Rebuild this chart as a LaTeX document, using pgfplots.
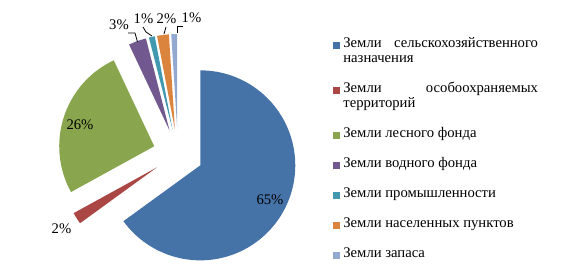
\documentclass[border=0pt]{standalone}
\usepackage{fontspec}
\setmainfont{Liberation Serif}
\usepackage{pgfplots}
\pgfplotsset{compat=1.18}
\definecolor{cBlue}{RGB}{69,114,167}
\definecolor{cRed}{RGB}{170,70,67}
\definecolor{cGreen}{RGB}{137,165,78}
\definecolor{cPurple}{RGB}{113,88,143}
\definecolor{cTeal}{RGB}{65,152,175}
\definecolor{cOrange}{RGB}{219,132,61}
\definecolor{cLBlue}{RGB}{147,169,207}
% #1 = cumulative share before this slice (%), #2 = share (%), #3 = colour
\newcommand{\pieslice}[3]{%
  \pgfmathsetmacro\aS{90-3.6*(#1)}%
  \pgfmathsetmacro\aE{90-3.6*(#1+#2)}%
  \pgfmathsetmacro\aM{(\aS+\aE)/2}%
  \pgfmathsetmacro\px{178+25*cos(\aM)}%
  \pgfmathsetmacro\py{121+25*sin(\aM)}%
  \pgfmathtruncatemacro\ns{max(4,#2*1.5)}%
  \edef\doslice{\noexpand\addplot[fill=#3, draw=none, domain=\aE:\aS, samples=\ns] ({\px+95*cos(x)},{\py+95*sin(x)}) -- (axis cs:\px,\py) -- cycle;}%
  \doslice}
\newcommand{\lab}{\fontsize{11}{12}\selectfont}
\begin{document}
\begin{tikzpicture}
\begin{axis}[
  scale only axis, width=422.25pt, height=206.25pt,
  xmin=0, xmax=563, ymin=0, ymax=275,
  hide axis, clip=false,
  legend style={at={(0.5915,0.8655)}, anchor=north west, draw=none, fill=none,
    inner sep=0pt, outer sep=0pt, row sep=11.25pt, column sep=2.5pt,
    font=\fontsize{11}{11.25}\selectfont,
    nodes={inner sep=0pt, text width=146pt, align=justify, text height=7.875pt, text depth=3.375pt},
    cells={anchor=base west}},
  legend image code/.code={\fill[#1] (0pt,-1pt) rectangle (5.25pt,4.25pt);},
]
\pieslice{0}{65}{cBlue}
\addlegendentry[text depth=14.625pt]{Земли сельскохозяйственного\linebreak назначения}
\pieslice{65}{2}{cRed}
\addlegendentry[text depth=14.625pt]{Земли особоохраняемых\linebreak территорий}
\pieslice{67}{26}{cGreen}
\addlegendentry{Земли лесного фонда}
\pieslice{93}{3}{cPurple}
\addlegendentry{Земли водного фонда}
\pieslice{96}{1}{cTeal}
\addlegendentry{Земли промышленности}
\pieslice{97}{2}{cOrange}
\addlegendentry{Земли населенных пунктов}
\pieslice{99}{1}{cLBlue}
\addlegendentry{Земли запаса}
\addplot[black, line width=0.6pt, forget plot] coordinates {(128,242) (135,242) (137.5,233)};
\addplot[black, line width=0.6pt, forget plot] coordinates {(143,248) (146,243) (152,239)};
\addplot[black, line width=0.6pt, forget plot] coordinates {(166,248) (164,241)};
\addplot[black, line width=0.6pt, forget plot] coordinates {(183,249) (177,249) (177,242)};
\node[font=\lab] at (axis cs:270,75) {65\%};
\node[font=\lab] at (axis cs:80,150) {26\%};
\node[font=\lab] at (axis cs:61.5,46.5) {2\%};
\node[font=\lab] at (axis cs:119,250) {3\%};
\node[font=\lab] at (axis cs:143.5,256) {1\%};
\node[font=\lab] at (axis cs:166.5,256) {2\%};
\node[font=\lab] at (axis cs:191.5,257) {1\%};
\path (axis cs:0,0) rectangle (axis cs:563,275);
\end{axis}
\end{tikzpicture}
\end{document}
